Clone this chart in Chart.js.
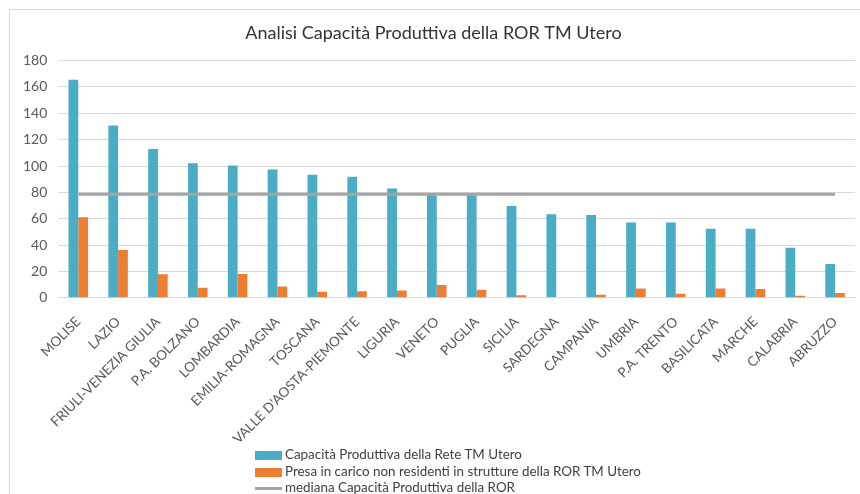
<!DOCTYPE html>
<html>
<head>
<meta charset="utf-8">
<script src="https://cdn.jsdelivr.net/npm/chart.js@4.4.0/dist/chart.umd.min.js"></script>
<style>
  body { margin: 0; background: #fff; font-family: Lato, sans-serif; }
  #box { position: relative; width: 860px; height: 494px; overflow: hidden; }
  #frame { position: absolute; left: 9px; top: 9px; width: 900px; height: 600px; border: 1px solid #d9d9d9; }
  #legenda { position: absolute; left: 255px; top: 446px; font-size: 13.4px; color: #404040; }
  #legenda div { height: 16.5px; line-height: 16.5px; white-space: nowrap; }
  #legenda span { display: inline-block; width: 27px; vertical-align: middle; margin-right: 3px; }
</style>
</head>
<body>
<div id="box">
  <div id="frame"></div>
  <canvas id="grafico" width="860" height="494"></canvas>
  <div id="legenda"></div>
</div>
<script>
const regioni = ["MOLISE", "LAZIO", "FRIULI-VENEZIA GIULIA", "P.A. BOLZANO", "LOMBARDIA", "EMILIA-ROMAGNA",
  "TOSCANA", "VALLE D'AOSTA-PIEMONTE", "LIGURIA", "VENETO", "PUGLIA", "SICILIA", "SARDEGNA", "CAMPANIA",
  "UMBRIA", "P.A. TRENTO", "BASILICATA", "MARCHE", "CALABRIA", "ABRUZZO"];

const capacita = [165.5, 130.7, 112.9, 102, 100.4, 97.4, 93.3, 91.8, 82.9, 78, 78, 69.7, 63.3, 62.8,
  57.2, 57.2, 52.4, 52.4, 37.9, 25.7];

const nonResidenti = [61.2, 36.3, 17.8, 7.6, 18, 8.6, 4.6, 5, 5.6, 9.7, 6.1, 2, 0, 2.3,
  7.1, 3, 7.1, 6.6, 1.5, 3.6];

const mediana = [78.6, 78.6, 78.6, 78.6, 78.6, 78.6, 78.6, 78.6, 78.6, 78.6, 78.6, 78.6, 78.6, 78.6,
  78.6, 78.6, 78.6, 78.6, 78.6, 78.6];

const tickY = [0, 20, 40, 60, 80, 100, 120, 140, 160, 180];

const ctx = document.getElementById("grafico");

const grafico = new Chart(ctx, {
  type: "bar",
  data: {
    labels: regioni,
    datasets: [
      {
        label: "Capacità Produttiva della Rete TM Utero",
        data: capacita,
        backgroundColor: "#4bacc6",
        order: 1,
        categoryPercentage: 0.49,
        barPercentage: 1,
      },
      {
        label: "Presa in carico non residenti in strutture della ROR TM Utero",
        data: nonResidenti,
        backgroundColor: "#ed7d31",
        order: 1,
        categoryPercentage: 0.49,
        barPercentage: 1,
      },
      {
        type: "line",
        label: "mediana Capacità Produttiva della ROR",
        data: mediana,
        borderColor: "#a5a5a5",
        backgroundColor: "#a5a5a5",
        borderWidth: 3,
        pointRadius: 0,
        order: 0,
      },
    ],
  },
  options: {
    responsive: false,
    animation: false,
    layout: { padding: { left: 12, right: 5, top: 10, bottom: 39 } },
    plugins: {
      legend: { display: false },
      tooltip: { enabled: false },
      title: {
        display: true,
        text: "Analisi Capacità Produttiva della ROR TM Utero",
        color: "#333333",
        font: { family: "Lato", size: 18, weight: "normal" },
        padding: { top: 12, bottom: 17 },
      },
    },
    scales: {
      x: {
        grid: { display: false },
        border: { color: "#d9d9d9" },
        ticks: {
          color: "#595959",
          maxRotation: 45,
          minRotation: 45,
          autoSkip: false,
          padding: 8,
          font: { family: "Lato", size: 13.5 },
        },
      },
      y: {
        min: 0,
        max: 180,
        afterBuildTicks: (scale) => {
          scale.ticks = tickY.map((v) => ({ value: v }));
        },
        grid: { color: "#d9d9d9", drawTicks: false },
        border: { display: false },
        ticks: {
          color: "#595959",
          padding: 11,
          font: { family: "Lato", size: 14 },
        },
      },
    },
  },
});

// legenda verticale come nell'originale
const legenda = document.getElementById("legenda");
grafico.data.datasets.forEach((ds) => {
  const riga = document.createElement("div");
  const segno = document.createElement("span");
  if (ds.type === "line") {
    segno.style.height = "3px";
  } else {
    segno.style.height = "9px";
  }
  segno.style.background = ds.type === "line" ? ds.borderColor : ds.backgroundColor;
  riga.appendChild(segno);
  riga.appendChild(document.createTextNode(ds.label));
  legenda.appendChild(riga);
});
</script>
</body>
</html>
